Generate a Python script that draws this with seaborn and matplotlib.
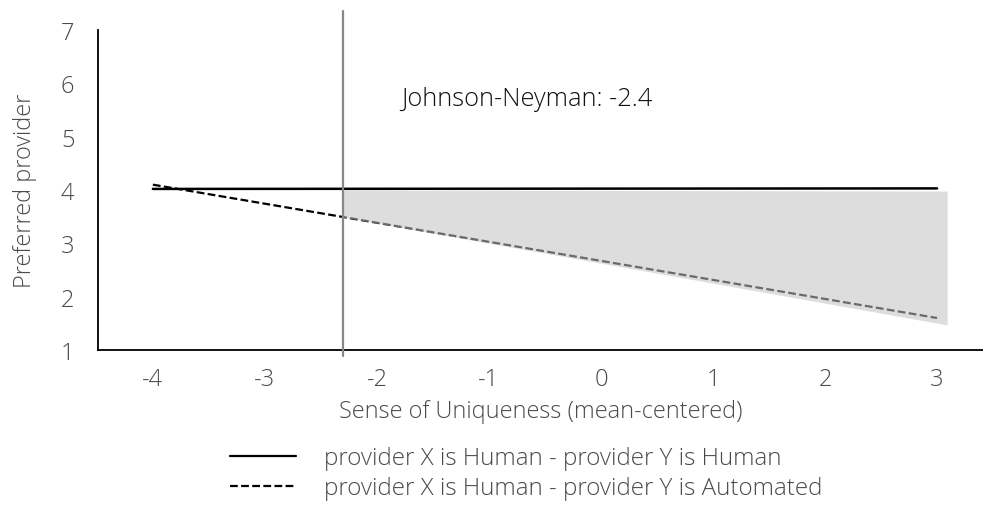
import matplotlib
matplotlib.use("Agg")
import matplotlib.pyplot as plt
import seaborn as sns
import pandas as pd
import numpy as np

# ---- data ----
x_vals = [-4.0, 3.0]
human_human = [4.02, 4.03]
human_auto = [4.10, 1.60]
series_names = ["provider X is Human - provider Y is Human",
                "provider X is Human - provider Y is Automated"]
jn_value = -2.30
jn_label = "Johnson-Neyman: -2.4"
region_x = [-2.30, 3.09]
region_top = [4.00, 3.98]
region_bottom = [3.49, 1.47]
x_ticks = [-4, -3, -2, -1, 0, 1, 2, 3]
y_ticks = [1, 2, 3, 4, 5, 6, 7]

df = pd.DataFrame({
    "x": x_vals * 2,
    "y": human_human + human_auto,
    "series": [series_names[0]] * 2 + [series_names[1]] * 2,
})

sns.set_theme(style="white")
plt.rcParams["font.family"] = ["Open Sans", "DejaVu Sans"]
plt.rcParams["font.weight"] = "light"
plt.rcParams["axes.labelweight"] = "light"

W, H = 983, 506
fig = plt.figure(figsize=(W / 100, H / 100), dpi=100)
ax = fig.add_axes([98 / W, (H - 351) / H, (983 - 98) / W, (351 - 31) / H])

TXT = "#4a4a4a"

sns.lineplot(data=df, x="x", y="y", style="series", color="black",
             dashes={series_names[0]: "", series_names[1]: (3.5, 1.5)},
             linewidth=1.6, ax=ax, legend=True, zorder=2)
for ln in ax.get_lines():
    if ln.get_linestyle() == "-":
        ln.set_zorder(5)
        ln.set_linewidth(1.8)

ax.fill_between(region_x, region_bottom, region_top, color="#c2c2c2",
                alpha=0.55, linewidth=0, zorder=3)

ax.plot([jn_value, jn_value], [0.89, 7.36], color="#888888", linewidth=1.6,
        clip_on=False, zorder=6)
ax.text(-1.78, 5.71, jn_label, fontsize=18.3, color="#111111", ha="left",
        va="center", fontweight="light")

ax.set_xlim(-4.49, 3.41)
ax.set_ylim(1, 7)
ax.set_xticks(x_ticks)
ax.set_yticks(y_ticks)
ax.set_xticklabels([str(t) for t in x_ticks])
ax.set_yticklabels([str(t) for t in y_ticks])
ax.tick_params(axis="x", length=0, pad=12, labelsize=17, labelcolor=TXT)
ax.tick_params(axis="y", length=0, pad=17, labelsize=17, labelcolor=TXT)
for s in ["top", "right"]:
    ax.spines[s].set_visible(False)
for s in ["left", "bottom"]:
    ax.spines[s].set_color("black")
    ax.spines[s].set_linewidth(1.3)

ax.set_xlabel("Sense of Uniqueness (mean-centered)", fontsize=16.9, color=TXT,
              labelpad=6, fontweight="light")
ax.set_ylabel("Preferred provider", fontsize=16.9, color=TXT, labelpad=17,
              fontweight="light")

handles, labels = ax.get_legend_handles_labels()
ax.get_legend().remove()
leg = fig.legend(handles, labels, loc="center left",
                 bbox_to_anchor=(230 / W, (H - 474) / H), frameon=False,
                 fontsize=17.4, handlelength=2.75, handletextpad=1.15,
                 labelspacing=0.25, borderpad=0, borderaxespad=0)
for t in leg.get_texts():
    t.set_color(TXT)
for lh in leg.get_lines():
    lh.set_linewidth(1.6)

fig.savefig("out.png", dpi=100)
